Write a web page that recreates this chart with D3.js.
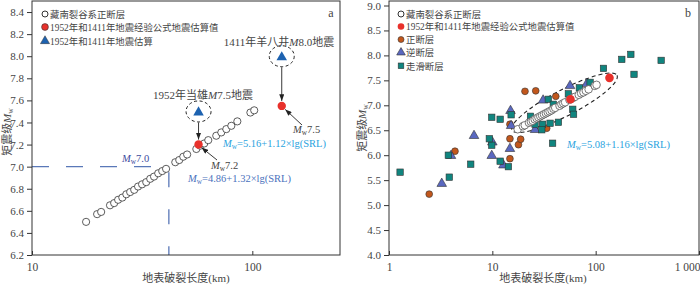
<!DOCTYPE html>
<html>
<head>
<meta charset="utf-8">
<script src="https://cdn.jsdelivr.net/npm/d3@7"></script>
<style>
  body { margin: 0; background: #fff; }
  svg text { font-family: "Liberation Serif", "Times New Roman", "Noto Sans CJK SC", serif; fill: #444; }
</style>
</head>
<body>
<svg id="chart" width="700" height="285"></svg>
<script>
// ---- panel a : Tibetan rift normal faults ----
var srlA = [17.6, 19.75, 20.6, 22.6, 23.6, 24.6, 25.7, 26.8, 27.9, 29.1, 30.3, 31.6, 33.0, 34.4, 35.8, 37.4, 39.0, 40.6,
  44.7, 46.6, 48.6, 50.6, 55.7, 58.0, 60.5, 63.1, 68.6, 72.3, 76.2, 80.3, 85.5, 98.0, 102];
var mwA = [6.50, 6.57, 6.59, 6.65, 6.67, 6.70, 6.72, 6.75, 6.77, 6.79, 6.82, 6.84, 6.86, 6.89, 6.91, 6.94, 6.96, 6.98,
  7.04, 7.06, 7.09, 7.11, 7.16, 7.19, 7.21, 7.24, 7.28, 7.31, 7.34, 7.37, 7.41, 7.49, 7.51];
var estSrl = [57, 136];        // 1952 and 1411 ruptures
var estMwA = [7.2, 7.55];      // empirical formula (panel a)
var histMw = [7.5, 8.0];       // historical estimates
var yTicksA = [6.2, 6.4, 6.6, 6.8, 7.0, 7.2, 7.4, 7.6, 7.8, 8.0, 8.2, 8.4];
var xTicksA = [10, 100];

// ---- panel b ----
var mwB = [6.52, 6.58, 6.60, 6.65, 6.67, 6.69, 6.72, 6.74, 6.76, 6.78, 6.80, 6.82, 6.84, 6.86, 6.88, 6.90, 6.93, 6.95,
  6.99, 7.02, 7.04, 7.06, 7.11, 7.13, 7.15, 7.17, 7.21, 7.24, 7.26, 7.29, 7.32, 7.39, 7.41];
var estMwB = [7.12, 7.55];
var normalSrl = [2.45, 4.35, 14.8, 17.9, 14.8, 18.8, 14.8, 33.6, 41.1, 20.7, 26.3];
var normalMw  = [5.22, 6.08, 5.93, 6.21, 6.33, 6.32, 6.62, 6.54, 7.18, 7.28, 7.29];
var reverseSrl = [3.24, 3.98, 9.87, 12.8, 14.8, 10.0, 6.65, 15.2, 15.0, 31.0, 56.5, 82.0, 25.9];
var reverseMw  = [5.43, 5.99, 5.99, 5.80, 6.13, 6.26, 6.39, 6.59, 6.89, 7.10, 7.39, 7.43, 6.51];
var slipSrl = [1.28, 3.83, 3.75, 6.18, 11.9, 14.3, 9.87, 9.35, 38.3, 9.87, 11.9, 15.2, 25.9, 30.6, 36.2, 43.6, 30.1,
  34.8, 38.9, 54.4, 69.5, 88.3, 60.0, 61.1, 119, 179, 219, 430, 235, 23.4];
var slipMw = [5.66, 5.56, 6.00, 5.82, 5.88, 5.77, 6.20, 6.33, 6.24, 6.76, 6.72, 6.81, 6.62, 6.62, 6.64, 6.66, 6.51,
  7.12, 7.02, 7.23, 7.35, 7.46, 6.92, 6.82, 7.74, 7.92, 8.02, 7.90, 7.62, 6.78];
var yTicksB = [4.0, 4.5, 5.0, 5.5, 6.0, 6.5, 7.0, 7.5, 8.0, 8.5, 9.0];
var xTicksB = [1, 10, 100, 1000];

var colors = { red: "#e8312b", blueTri: "#1d62b0", normal: "#c2571c", reverse: "#5a68c0", slip: "#10857f",
  eqLight: "#2aa3e0", eqDark: "#4b72bd", ref: "#5a78b8", ink: "#333" };

var svg = d3.select("#chart");
var defs = svg.append("defs");
defs.append("marker").attr("id", "arrow").attr("viewBox", "0 0 8 6")
  .attr("refX", 8).attr("refY", 3).attr("markerWidth", 7).attr("markerHeight", 5)
  .attr("orient", "auto").attr("markerUnits", "userSpaceOnUse")
  .append("path").attr("d", "M0,0L8,3L0,6z").attr("fill", "#222");

var fmt = d3.format(".1f");

function frame(x0, x1, y0, y1) {
  svg.append("rect").attr("x", x0).attr("y", y0).attr("width", x1 - x0).attr("height", y1 - y0)
    .attr("fill", "none").attr("stroke", colors.ink).attr("stroke-width", 1);
}

function axes(x, y, xTicks, yTicks, xFmt) {
  var r = x.range(), b = y.range()[0];
  svg.append("g").attr("transform", "translate(0," + b + ")")
    .call(d3.axisBottom(x).tickValues(xTicks).tickSize(-4).tickPadding(8).tickFormat(xFmt))
    .call(function (g) { g.select(".domain").remove(); })
    .call(function (g) { g.selectAll("line").attr("stroke", colors.ink); })
    .call(function (g) { g.selectAll("text").attr("font-size", 11.5).attr("fill", "#444"); });
  svg.append("g").attr("transform", "translate(" + r[0] + ",0)")
    .call(d3.axisLeft(y).tickValues(yTicks).tickSize(5).tickPadding(3).tickFormat(fmt))
    .call(function (g) { g.select(".domain").remove(); })
    .call(function (g) { g.selectAll("line").attr("stroke", colors.ink); })
    .call(function (g) { g.selectAll("text").attr("font-size", 11).attr("fill", "#444"); });
}

function mwText(sel, prefix, size) {
  if (prefix) sel.append("tspan").text(prefix);
  sel.append("tspan").attr("font-style", "italic").text("M");
  sel.append("tspan").attr("font-size", size * 0.7).attr("dy", 2).text("w");
}

function axisTitles(cx, yx, cy) {
  svg.append("text").attr("x", cx).attr("y", 282).attr("text-anchor", "middle")
    .attr("font-size", 11).text("地表破裂长度(km)");
  var t = svg.append("text").attr("transform", "translate(" + yx + "," + cy + ") rotate(-90)")
    .attr("text-anchor", "middle").attr("font-size", 11);
  mwText(t, "矩震级", 11);
}

function triangle(s) { return d3.symbol().type(d3.symbolTriangle).size(s)(); }

// ================= panel a =================
var xa = d3.scaleLog().domain([10, 250]).range([32, 340]);
var ya = d3.scaleLinear().domain([6.2, 8.5]).range([255, 1]);

// reference lines Mw 7.0
svg.append("line").attr("x1", xa(10)).attr("x2", xa(41.8)).attr("y1", ya(7.0)).attr("y2", ya(7.0))
  .attr("stroke", colors.ref).attr("stroke-width", 1.3).attr("stroke-dasharray", "17,17");
svg.append("line").attr("x1", xa(41.8)).attr("x2", xa(41.8)).attr("y1", ya(6.95)).attr("y2", ya(6.2))
  .attr("stroke", colors.ref).attr("stroke-width", 1.3).attr("stroke-dasharray", "15,22");

svg.append("g").selectAll("circle").data(srlA).enter().append("circle")
  .attr("cx", function (d) { return xa(d); })
  .attr("cy", function (d, i) { return ya(mwA[i]); })
  .attr("r", 3.6).attr("fill", "#fff").attr("stroke", "#333").attr("stroke-width", 0.8);

// historic estimates with dashed rings and arrows
estSrl.forEach(function (s, i) {
  var cx = xa(s), cyT = ya(histMw[i]), cyR = ya(estMwA[i]);
  svg.append("ellipse").attr("cx", cx).attr("cy", cyT).attr("rx", 12.5).attr("ry", 10.5)
    .attr("fill", "none").attr("stroke", "#222").attr("stroke-width", 1).attr("stroke-dasharray", "3,2.5");
  svg.append("line").attr("x1", cx).attr("x2", cx).attr("y1", cyT + 11).attr("y2", cyR - 5)
    .attr("stroke", "#222").attr("stroke-width", 0.9).attr("marker-end", "url(#arrow)");
  svg.append("path").attr("d", triangle(48)).attr("transform", "translate(" + cx + "," + (cyT + 1) + ")")
    .attr("fill", colors.blueTri);
  svg.append("circle").attr("cx", cx).attr("cy", cyR).attr("r", 4.2).attr("fill", colors.red);
});

// arrows from labels to estimates
svg.append("line").attr("x1", 217).attr("y1", 160).attr("x2", xa(estSrl[0]) + 3).attr("y2", ya(estMwA[0]) + 3)
  .attr("stroke", "#222").attr("stroke-width", 0.9).attr("marker-end", "url(#arrow)");
svg.append("line").attr("x1", 302).attr("y1", 125).attr("x2", xa(estSrl[1]) + 3.5).attr("y2", ya(estMwA[1]) + 3.5)
  .attr("stroke", "#222").attr("stroke-width", 0.9).attr("marker-end", "url(#arrow)");

var t;
t = svg.append("text").attr("x", 203).attr("y", 99).attr("text-anchor", "middle").attr("font-size", 11);
t.append("tspan").text("1952年当雄"); t.append("tspan").attr("font-style", "italic").text("M"); t.append("tspan").text("7.5地震");
t = svg.append("text").attr("x", 279).attr("y", 46).attr("text-anchor", "middle").attr("font-size", 11);
t.append("tspan").text("1411年羊八井"); t.append("tspan").attr("font-style", "italic").text("M"); t.append("tspan").text("8.0地震");

t = svg.append("text").attr("x", 293).attr("y", 133).attr("font-size", 10.5);
mwText(t, null, 10.5); t.append("tspan").attr("dy", -2).text("7.5");
t = svg.append("text").attr("x", 211).attr("y", 168.5).attr("font-size", 10.5);
mwText(t, null, 10.5); t.append("tspan").attr("dy", -2).text("7.2");
t = svg.append("text").attr("x", 122).attr("y", 162).attr("font-size", 10.5).style("fill", "#3d4a9e");
mwText(t, null, 10.5); t.append("tspan").attr("dy", -2).text("7.0");

t = svg.append("text").attr("x", 223).attr("y", 146.5).attr("font-size", 10.5).style("fill", colors.eqLight);
mwText(t, null, 10.5); t.append("tspan").attr("dy", -2).text("=5.16+1.12×lg(SRL)");
t = svg.append("text").attr("x", 188).attr("y", 181.5).attr("font-size", 10.5).style("fill", colors.eqDark);
mwText(t, null, 10.5); t.append("tspan").attr("dy", -2).text("=4.86+1.32×lg(SRL)");

// legend a
var legA = svg.append("g").attr("transform", "translate(45,0)");
legA.append("circle").attr("cx", 0).attr("cy", 14).attr("r", 3).attr("fill", "#fff").attr("stroke", "#333");
legA.append("circle").attr("cx", 0).attr("cy", 27).attr("r", 3.4).attr("fill", colors.red).attr("stroke", "#333").attr("stroke-width", 0.6);
legA.append("path").attr("d", triangle(36)).attr("transform", "translate(0,41)").attr("fill", colors.blueTri).attr("stroke", "#333").attr("stroke-width", 0.5);
[["藏南裂谷系正断层", 14], ["1952年和1411年地震经验公式地震估算值", 27], ["1952年和1411年地震估算", 41]].forEach(function (d) {
  legA.append("text").attr("x", 5).attr("y", d[1] + 3.5).attr("font-size", 9.4).text(d[0]);
});
svg.append("text").attr("x", 331).attr("y", 17).attr("text-anchor", "middle").attr("font-size", 12).text("a");

frame(32, 340, 1, 255);
axes(xa, ya, xTicksA, yTicksA, d3.format("d"));
axisTitles(186, 11, 132);

// ================= panel b =================
var xb = d3.scaleLog().domain([1, 1000]).range([389, 699]);
var yb = d3.scaleLinear().domain([4, 9]).range([255, 5.5]);

// dashed ellipse around rift faults
var e1 = [xb(15.5), yb(6.5)], e2 = [xb(161), yb(7.6)];
var ecx = (e1[0] + e2[0]) / 2, ecy = (e1[1] + e2[1]) / 2;
var erx = Math.hypot(e2[0] - e1[0], e2[1] - e1[1]) / 2;
var eang = Math.atan2(e2[1] - e1[1], e2[0] - e1[0]) * 180 / Math.PI;
svg.append("ellipse").attr("cx", 0).attr("cy", 0).attr("rx", erx).attr("ry", 13)
  .attr("transform", "translate(" + ecx + "," + ecy + ") rotate(" + eang + ")")
  .attr("fill", "none").attr("stroke", "#222").attr("stroke-width", 1.1).attr("stroke-dasharray", "4,3");

svg.append("g").selectAll("circle").data(normalSrl).enter().append("circle")
  .attr("cx", function (d) { return xb(d); })
  .attr("cy", function (d, i) { return yb(normalMw[i]); })
  .attr("r", 3.4).attr("fill", colors.normal).attr("stroke", "#333").attr("stroke-width", 0.6);

svg.append("g").selectAll("path").data(reverseSrl).enter().append("path")
  .attr("d", triangle(40))
  .attr("transform", function (d, i) { return "translate(" + xb(d) + "," + yb(reverseMw[i]) + ")"; })
  .attr("fill", colors.reverse).attr("stroke", "#333").attr("stroke-width", 0.6);

svg.append("g").selectAll("rect").data(slipSrl).enter().append("rect")
  .attr("x", function (d) { return xb(d) - 3.2; })
  .attr("y", function (d, i) { return yb(slipMw[i]) - 3.2; })
  .attr("width", 6.4).attr("height", 6.4)
  .attr("fill", colors.slip).attr("stroke", "#333").attr("stroke-width", 0.6);

svg.append("g").selectAll("circle").data(srlA).enter().append("circle")
  .attr("cx", function (d) { return xb(d); })
  .attr("cy", function (d, i) { return yb(mwB[i]); })
  .attr("r", 3.8).attr("fill", "#fff").attr("stroke", "#555").attr("stroke-width", 0.8);

svg.append("g").selectAll("circle").data(estSrl).enter().append("circle")
  .attr("cx", function (d) { return xb(d); })
  .attr("cy", function (d, i) { return yb(estMwB[i]); })
  .attr("r", 4.3).attr("fill", colors.red);

t = svg.append("text").attr("x", 567).attr("y", 148).attr("font-size", 10.5).style("fill", colors.eqLight);
mwText(t, null, 10.5); t.append("tspan").attr("dy", -2).text("=5.08+1.16×lg(SRL)");

// legend b
var legB = svg.append("g").attr("transform", "translate(401,0)");
legB.append("circle").attr("cx", 0).attr("cy", 14).attr("r", 3).attr("fill", "#fff").attr("stroke", "#333");
legB.append("circle").attr("cx", 0).attr("cy", 26.5).attr("r", 3.3).attr("fill", colors.red);
legB.append("circle").attr("cx", 0).attr("cy", 39.5).attr("r", 3).attr("fill", colors.normal).attr("stroke", "#333").attr("stroke-width", 0.6);
legB.append("path").attr("d", triangle(32)).attr("transform", "translate(0,52.5)").attr("fill", colors.reverse).attr("stroke", "#333").attr("stroke-width", 0.6);
legB.append("rect").attr("x", -2.8).attr("y", 63).attr("width", 5.6).attr("height", 5.6).attr("fill", colors.slip).attr("stroke", "#333").attr("stroke-width", 0.6);
[["藏南裂谷系正断层", 14], ["1952年和1411年地震经验公式地震估算值", 26.5], ["正断层", 39.5], ["逆断层", 52.5], ["走滑断层", 66]].forEach(function (d) {
  legB.append("text").attr("x", 5).attr("y", d[1] + 3.5).attr("font-size", 9.4).text(d[0]);
});
svg.append("text").attr("x", 688).attr("y", 17).attr("text-anchor", "middle").attr("font-size", 12).text("b");

frame(389, 699, 1, 255);
axes(xb, yb, xTicksB, yTicksB, function (d) { return d === 1000 ? "1 000" : String(d); });
// keep the last x label inside the canvas
svg.selectAll("g.tick text").filter(function () { return this.textContent === "1 000"; })
  .attr("text-anchor", "end").attr("x", 1);
axisTitles(543, 366, 128);
</script>
</body>
</html>
